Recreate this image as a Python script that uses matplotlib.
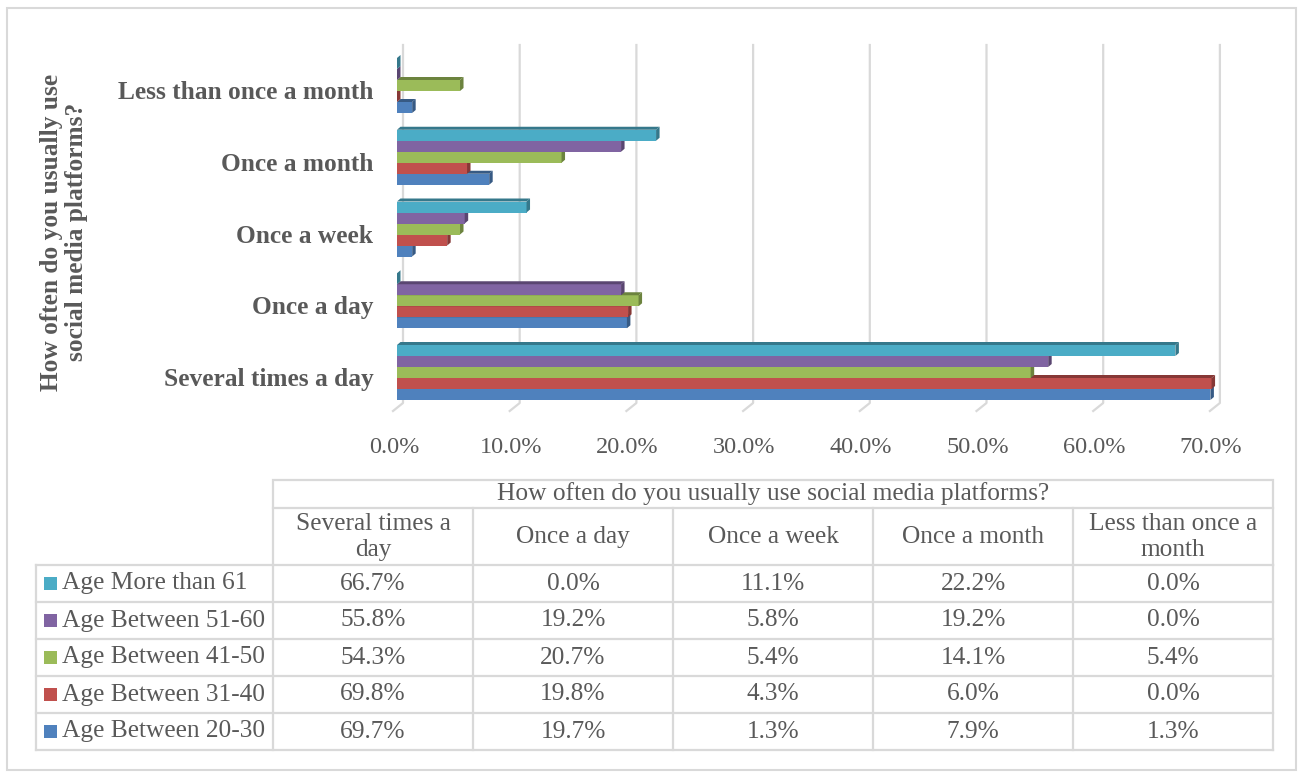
import numpy as np
import matplotlib
matplotlib.use("Agg")
import matplotlib.pyplot as plt
from matplotlib.patches import Polygon, Rectangle
from matplotlib.transforms import ScaledTranslation
from matplotlib.colors import to_rgb

plt.rcParams['font.family'] = ['Liberation Serif', 'DejaVu Serif']

# categories (bottom to top in chart) and series
categories = ["Several times a day", "Once a day", "Once a week",
              "Once a month", "Less than once a month"]
header_labels = ["Several times a\nday", "Once a day", "Once a week",
                 "Once a month", "Less than once a\nmonth"]
series_names = ["Age Between 20-30", "Age Between 31-40", "Age Between 41-50",
                "Age Between 51-60", "Age More than 61"]
colors = ["#4F81BD", "#C0504D", "#9BBB59", "#8064A2", "#4BACC6"]

age_20_30 = [69.7, 19.7, 1.3, 7.9, 1.3]
age_31_40 = [69.8, 19.8, 4.3, 6.0, 0.0]
age_41_50 = [54.3, 20.7, 5.4, 14.1, 5.4]
age_51_60 = [55.8, 19.2, 5.8, 19.2, 0.0]
age_61_up = [66.7, 0.0, 11.1, 22.2, 0.0]
values = [age_20_30, age_31_40, age_41_50, age_51_60, age_61_up]

xticks = [0, 10, 20, 30, 40, 50, 60, 70]
axis_title = "How often do you usually use\nsocial media platforms?"

W, H = 1303, 774
txt = "#595959"
grid_c = "#D9D9D9"
fs = 18.3
fs_tick = 17.5

fig = plt.figure(figsize=(W / 100, H / 100), dpi=100)

# background axes in pixel coordinates for frame, table and axis title
bg = fig.add_axes([0, 0, 1, 1])
bg.set_xlim(0, W)
bg.set_ylim(H, 0)
bg.axis("off")
bg.add_patch(Rectangle((7, 8), 1289, 762, fill=False, ec=grid_c, lw=1.5))

bg.text(64, 232, axis_title, rotation=90, ha="center", va="center",
        fontsize=fs, fontweight="bold", color=txt, linespacing=1.15)

# bar chart axes
px_per_unit = 11.67
left_px, top_px, bot_px = 397, 45, 411
xmax = 71.0
right_px = left_px + xmax * px_per_unit
ax = fig.add_axes([left_px / W, 1 - bot_px / H, (right_px - left_px) / W,
                   (bot_px - top_px) / H])
unit_y = 71.75
ylo = -(bot_px - 377) / unit_y
yhi = (377 - top_px) / unit_y
ax.set_xlim(0, xmax)
ax.set_ylim(ylo, yhi)
for s in ax.spines.values():
    s.set_visible(False)

# back-wall gridlines with slanted floor ends
gx = 6 / px_per_unit
floor_y = -(403 - 377) / unit_y
for t in xticks:
    ax.plot([t + gx, t + gx, t + gx - 10 / px_per_unit], [yhi, floor_y, ylo],
            color=grid_c, lw=1.6, zorder=1, clip_on=False)

bh = 11 / unit_y
dx = 3.5 / px_per_unit
dy = 3 / unit_y
shift = 4.5 / unit_y
ypos = np.arange(len(categories))
for k, (vals, col) in enumerate(zip(values, colors)):
    dark = tuple(c * 0.7 for c in to_rgb(col))
    for i, v in enumerate(vals):
        y0 = ypos[i] + shift + (k - 2.5) * bh
        y1 = y0 + bh
        ax.barh(y0, v, height=bh, align="edge", color=col, zorder=3 + k)
        ax.add_patch(Polygon([(0, y1), (v, y1), (v + dx, y1 + dy), (dx, y1 + dy)],
                             closed=True, fc=dark, ec="none", zorder=3 + k))
        ax.add_patch(Polygon([(v, y0), (v, y1), (v + dx, y1 + dy), (v + dx, y0 + dy)],
                             closed=True, fc=dark, ec="none", zorder=3 + k))

ax.set_yticks(ypos)
ax.set_yticklabels(categories, fontsize=fs, fontweight="bold", color=txt)
ax.tick_params(axis="y", length=0, pad=17)
ax.set_xticks(xticks)
ax.set_xticklabels(["%.1f%%" % t for t in xticks], fontsize=fs_tick, color=txt)
ax.tick_params(axis="x", length=0, pad=19)
off = ScaledTranslation(-3 / 100, 0, fig.dpi_scale_trans)
for lab in ax.get_xticklabels():
    lab.set_transform(lab.get_transform() + off)

# data table
col_edges = [273, 473, 673, 873, 1073, 1273]
row_edges = [565, 602, 639, 676, 713, 750]
lab_left = 36
tlw = 1.6
bg.add_patch(Rectangle((273, 480), 1000, 28, fill=False, ec=grid_c, lw=tlw))
bg.text(773, 494, "How often do you usually use social media platforms?",
        ha="center", va="center", fontsize=fs, color=txt)
for x in col_edges:
    bg.plot([x, x], [508, 565], color=grid_c, lw=tlw)
    bg.plot([x, x], [565, 750], color=grid_c, lw=tlw)
bg.plot([lab_left, lab_left], [565, 750], color=grid_c, lw=tlw)
for y in row_edges:
    bg.plot([lab_left, 1273], [y, y], color=grid_c, lw=tlw)
for j, h in enumerate(header_labels):
    xc = (col_edges[j] + col_edges[j + 1]) / 2
    bg.text(xc, 537, h, ha="center", va="center", fontsize=fs, color=txt,
            linespacing=1.2)

# rows listed top to bottom: oldest group first
for r, k in enumerate(range(len(series_names) - 1, -1, -1)):
    yc = (row_edges[r] + row_edges[r + 1]) / 2
    bg.add_patch(Rectangle((44, yc - 6.5), 13, 13, fc=colors[k], ec="none"))
    bg.text(62, yc, series_names[k], ha="left", va="center", fontsize=fs,
            color=txt)
    for j, v in enumerate(values[k]):
        xc = (col_edges[j] + col_edges[j + 1]) / 2
        bg.text(xc, yc, "%.1f%%" % v, ha="center", va="center", fontsize=fs,
                color=txt)

fig.savefig("out.png", dpi=100)
